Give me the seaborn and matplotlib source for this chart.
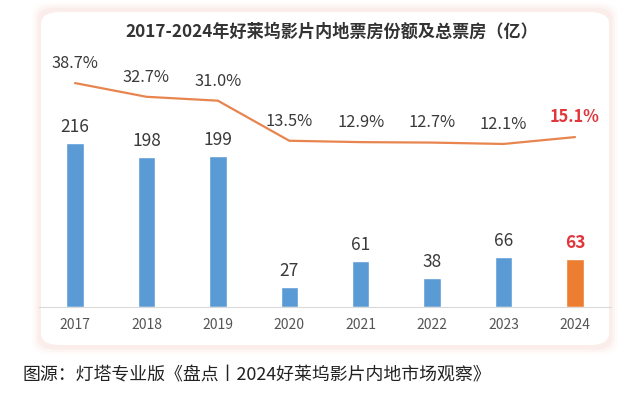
import numpy as np
import pandas as pd
import matplotlib
matplotlib.use("Agg")
import matplotlib.pyplot as plt
from matplotlib.patches import FancyBboxPatch
import seaborn as sns

# data
years = ["2017", "2018", "2019", "2020", "2021", "2022", "2023", "2024"]
box_office = [216, 198, 199, 27, 61, 38, 66, 63]          # 亿
share_pct = [38.7, 32.7, 31.0, 13.5, 12.9, 12.7, 12.1, 15.1]

title_text = "2017-2024年好莱坞影片内地票房份额及总票房（亿）"
source_text = "图源：灯塔专业版《盘点丨2024好莱坞影片内地市场观察》"

sns.set_theme(style="white")
plt.rcParams['font.family'] = ['Noto Sans CJK SC', 'DejaVu Sans']

blue = "#5B9BD5"
orange = "#ED7D31"
line_col = "#E8854F"
red = "#E0363C"
txt = "#3A3A3A"

df = pd.DataFrame({"year": years, "value": box_office, "share": share_pct})
bar_colors = {y: (orange if y == years[-1] else blue) for y in years}

fig = plt.figure(figsize=(6.4, 3.95), dpi=100)
fig.patch.set_facecolor("white")

# soft pinkish card behind the chart
for i, a in enumerate([0.10, 0.16, 0.25]):
    pad = (3 - i) * 2.5
    fig.patches.append(FancyBboxPatch(
        ((40 - pad) / 640, (395 - 347 - pad) / 395), (570 + 2 * pad) / 640, (337 + 2 * pad) / 395,
        boxstyle="round,pad=0,rounding_size=0.03", transform=fig.transFigure,
        facecolor="#F6D9D2", edgecolor="none", alpha=a, zorder=-3))
fig.patches.append(FancyBboxPatch(
    (41 / 640, (395 - 345) / 395), 568 / 640, 333 / 395,
    boxstyle="round,pad=0,rounding_size=0.03", transform=fig.transFigure,
    facecolor="white", edgecolor="none", zorder=-2))

ax = fig.add_axes([39.3 / 640, 88 / 395, 571.4 / 640, 267 / 395])
ax.set_facecolor("none")
sns.barplot(data=df, x="year", y="value", hue="year", palette=bar_colors,
            legend=False, width=0.245, saturation=1, ax=ax, zorder=2)
ax.set_xlim(-0.5, 7.5)
ax.set_ylim(0, 351.8)

for i, v in enumerate(box_office):
    last = i == len(box_office) - 1
    ax.annotate(str(v), (i, v), xytext=(0, 5), textcoords="offset points",
                ha="center", va="bottom", fontsize=12.5,
                color=red if last else txt, fontweight="bold" if last else "normal")

for s in ["top", "left", "right"]:
    ax.spines[s].set_visible(False)
ax.spines["bottom"].set_color("#DADADA")
ax.spines["bottom"].set_linewidth(0.8)
ax.set_yticks([])
ax.set_xlabel("")
ax.set_ylabel("")
ax.tick_params(axis="x", length=0, pad=8, labelsize=10, labelcolor="#555555")

ax2 = ax.twinx()
sns.lineplot(x=np.arange(len(years)), y=share_pct, ax=ax2, color=line_col,
             linewidth=1.6, zorder=3)
ax2.set_ylim(-59.1, 57.5)
ax2.set_yticks([])
for s in ax2.spines.values():
    s.set_visible(False)

for i, p in enumerate(share_pct):
    last = i == len(share_pct) - 1
    ax2.annotate(f"{p:.1f}%", (i, p), xytext=(0, 8), textcoords="offset points",
                 ha="center", va="bottom", fontsize=11.8,
                 color=red if last else txt, fontweight="bold" if last else "normal")

fig.text(332 / 640, 1 - 32 / 395, title_text, ha="center", va="center",
         fontsize=12.3, fontweight="bold", color="#333333")
fig.text(22 / 640, 1 - 375 / 395, source_text, ha="left", va="center",
         fontsize=12.9, color="#222222")

fig.savefig("out.png", dpi=100)
